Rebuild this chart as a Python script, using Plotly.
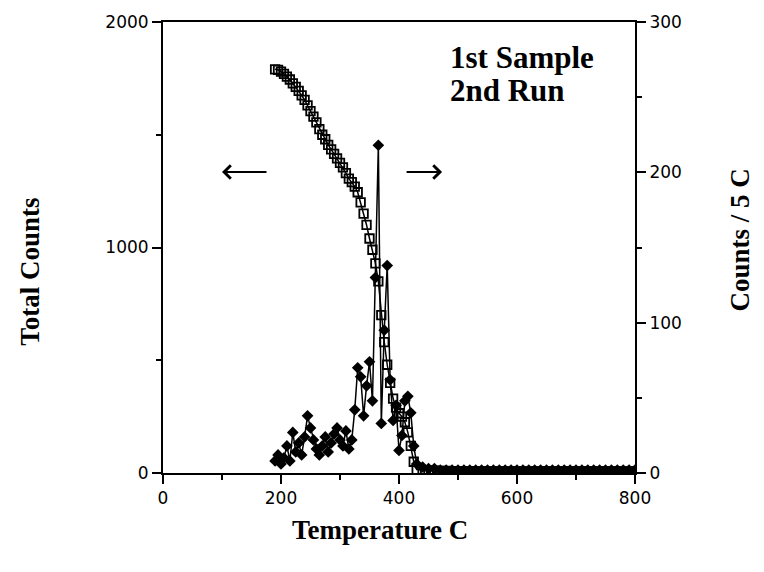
import plotly.graph_objects as go

# temperatures (C), 5 C steps through the release region, 10 C steps on the flat tail
temps = [190, 195, 200, 205, 210, 215, 220, 225, 230, 235, 240, 245, 250, 255,
         260, 265, 270, 275, 280, 285, 290, 295, 300, 305, 310, 315, 320, 325,
         330, 335, 340, 345, 350, 355, 360, 365, 370, 375, 380, 385, 390, 395,
         400, 405, 410, 415, 420, 425, 430,
         440, 450, 460, 470, 480, 490, 500, 510, 520, 530, 540, 550, 560, 570,
         580, 590, 600, 610, 620, 630, 640, 650, 660, 670, 680, 690, 700, 710,
         720, 730, 740, 750, 760, 770, 780, 790, 800]

# total counts (left axis, open squares)
total_counts = [1790, 1788, 1780, 1770, 1758, 1745, 1728, 1712, 1695, 1675, 1655,
                1630, 1605, 1580, 1555, 1525, 1500, 1480, 1455, 1435, 1415, 1395,
                1375, 1355, 1330, 1305, 1290, 1270, 1245, 1200, 1150, 1100, 1040,
                990, 930, 850, 700, 580, 480, 400, 330, 290, 265, 250, 225, 180,
                120, 50, 15,
                12, 10, 10, 9, 9, 8, 8, 8, 8, 7, 7, 7, 7, 7, 7, 7, 7, 7, 7, 7,
                7, 7, 7, 7, 7, 7, 7, 7, 7, 7, 7, 7, 7, 7, 7, 7, 7]

# counts per 5 C (right axis, filled diamonds)
counts_per_5c = [8, 12, 6, 10, 18, 8, 27, 14, 20, 12, 24, 38, 30, 22, 16, 12, 18,
                 24, 14, 20, 26, 30, 22, 18, 28, 16, 22, 42, 70, 64, 38, 58, 74,
                 48, 130, 218, 33, 95, 138, 62, 35, 45, 15, 25, 48, 51, 40, 18, 6,
                 4, 3, 3, 2, 2, 2, 2, 2, 2, 2, 2, 2, 2, 2, 2, 2, 2, 2, 2, 2, 2,
                 2, 2, 2, 2, 2, 2, 2, 2, 2, 2, 2, 2, 2, 2, 2, 2, 2]

x_ticks = [0, 200, 400, 600, 800]
left_ticks = [0, 1000, 2000]
right_ticks = [0, 100, 200, 300]

serif = "Liberation Serif"
tick_font = dict(family="DejaVu Sans", size=17, color="black")
title_font = dict(family=serif, size=27, color="black")
label_font = dict(family=serif, size=31, color="black")

fig = go.Figure()

fig.add_trace(go.Scatter(
    x=temps, y=total_counts, mode="lines+markers",
    line=dict(color="black", width=1.5),
    marker=dict(symbol="square-open", size=8.5, color="black",
                line=dict(color="black", width=1.8)),
    showlegend=False,
))

fig.add_trace(go.Scatter(
    x=temps, y=counts_per_5c, mode="lines+markers", yaxis="y2",
    line=dict(color="black", width=1.5),
    marker=dict(symbol="diamond", size=9, color="black"),
    showlegend=False,
))

axis_common = dict(
    showgrid=False, zeroline=False, showline=True, linecolor="black",
    linewidth=2, ticks="outside", ticklen=9, tickwidth=2, tickcolor="black",
    tickfont=tick_font, automargin=False,
)

# page body adds 8 px around the figure; size it so it fits the window
# without scrollbars and trim margins so the plot box lands where it should
fig.update_layout(
    width=748, height=556,
    margin=dict(l=155, r=121, t=14, b=91),
    paper_bgcolor="white", plot_bgcolor="white",
    xaxis=dict(range=[0, 800], tickvals=x_ticks, mirror=True,
               minor=dict(dtick=100, ticks="outside", ticklen=5,
                          tickwidth=2, tickcolor="black"),
               **axis_common),
    yaxis=dict(range=[0, 2000], tickvals=left_ticks,
               minor=dict(dtick=500, ticks="outside", ticklen=5,
                          tickwidth=2, tickcolor="black"),
               **axis_common),
    yaxis2=dict(range=[0, 300], tickvals=right_ticks, overlaying="y",
                side="right",
                minor=dict(dtick=50, ticks="outside", ticklen=5,
                           tickwidth=2, tickcolor="black"),
                **axis_common),
)

annotations = [
    dict(text="<b>Total Counts</b>", xref="paper", yref="paper",
         x=-0.282, y=0.446, xanchor="center", yanchor="middle",
         textangle=-90, showarrow=False, font=title_font),
    dict(text="<b>Counts / 5 C</b>", xref="paper", yref="paper",
         x=1.222, y=0.517, xanchor="center", yanchor="middle",
         textangle=-90, showarrow=False, font=title_font),
    dict(text="<b>Temperature C</b>", xref="paper", yref="paper",
         x=0.46, y=-0.126, xanchor="center", yanchor="middle",
         showarrow=False, font=title_font),
    dict(text="<b>1st Sample</b>", xref="paper", yref="paper",
         x=0.604, y=0.922, xanchor="left", yanchor="middle",
         showarrow=False, font=label_font),
    dict(text="<b>2nd Run</b>", xref="paper", yref="paper",
         x=0.604, y=0.849, xanchor="left", yanchor="middle",
         showarrow=False, font=label_font),
    # direction arrows pointing to each axis
    dict(x=100, y=1335, xref="x", yref="y", ax=46, ay=0, text="",
         showarrow=True, arrowhead=4, arrowsize=1.3, arrowwidth=2,
         arrowcolor="black"),
    dict(x=473, y=1335, xref="x", yref="y", ax=-37, ay=0, text="",
         showarrow=True, arrowhead=4, arrowsize=1.3, arrowwidth=2,
         arrowcolor="black"),
]
fig.update_layout(annotations=annotations)

fig.write_html("out.html")
